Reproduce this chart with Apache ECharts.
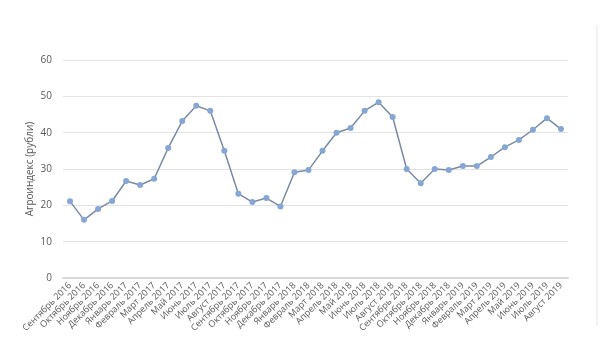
<!DOCTYPE html>
<html><head><meta charset="utf-8">
<script src="https://cdn.jsdelivr.net/npm/echarts@6/dist/echarts.min.js"></script>
<style>html,body{margin:0;padding:0;background:#fff}#c{width:600px;height:352px}</style>
</head><body><div id="c"></div>
<script>
const categories = ['Сентябрь 2016','Октябрь 2016','Ноябрь 2016','Декабрь 2016','Январь 2017','Февраль 2017','Март 2017','Апрель 2017','Май 2017','Июнь 2017','Июль 2017','Август 2017','Сентябрь 2017','Октябрь 2017','Ноябрь 2017','Декабрь 2017','Январь 2018','Февраль 2018','Март 2018','Апрель 2018','Май 2018','Июнь 2018','Июль 2018','Август 2018','Сентябрь 2018','Октябрь 2018','Ноябрь 2018','Декабрь 2018','Январь 2019','Февраль 2019','Март 2019','Апрель 2019','Май 2019','Июнь 2019','Июль 2019','Август 2019'];
const values = [21.1,16,19,21.2,26.7,25.6,27.3,35.8,43.2,47.4,46,35,23.2,20.9,22,19.7,29.1,29.7,35,40,41.3,46,48.4,44.3,30,26.1,30,29.7,30.8,30.8,33.3,36,38,40.8,44,41];
const yTicks = [0,10,20,30,40,50,60];
const yTitle = 'Агроиндекс (рубли)';

const chart = echarts.init(document.getElementById('c'), null, {renderer:'canvas'});
chart.setOption({
  animation:false,
  textStyle:{fontFamily:'Open Sans, DejaVu Sans, sans-serif'},
  grid:{left:63,right:32,top:60,bottom:74,containLabel:false},
  xAxis:{type:'category',data:categories,boundaryGap:true,
    axisLine:{lineStyle:{color:'#d9d9d9',width:2}},
    axisTick:{show:false},
    axisLabel:{interval:0,rotate:45,fontSize:9,color:'#595959',margin:6}},
  yAxis:{type:'value',min:yTicks[0],max:yTicks[yTicks.length-1],interval:10,
    name:yTitle,nameLocation:'middle',nameGap:28,nameRotate:90,nameMoveOverlap:false,
    nameTextStyle:{fontSize:10,color:'#595959'},
    axisLine:{show:false},axisTick:{show:false},
    axisLabel:{fontSize:10,color:'#595959',margin:11},
    splitLine:{lineStyle:{color:'#e3e3e3',width:1}}},
  graphic:[{type:'line',shape:{x1:597,y1:25,x2:597,y2:326},style:{stroke:'#e6e6e6',lineWidth:1}}],
  series:[{type:'line',data:values,symbol:'circle',symbolSize:6,
    lineStyle:{color:'#7a8aa3',width:1.5},
    itemStyle:{color:'#86a6d4'}}]
});
</script></body></html>
